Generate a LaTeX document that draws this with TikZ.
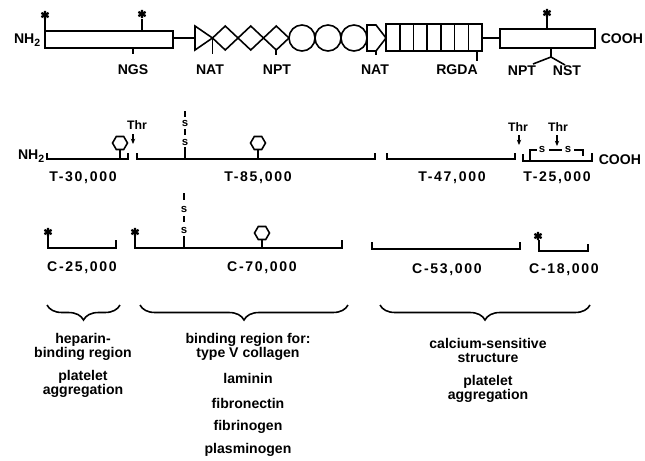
\documentclass[tikz,border=0pt]{standalone}
\usepackage{fontspec}
\setmainfont{Liberation Sans}
\newfontfamily\spacedfont[LetterSpace=12]{Liberation Sans}
\usetikzlibrary{arrows.meta,decorations.pathreplacing}
\tikzset{
  astx/.pic={\draw[line width=1.3pt] (0,-4.2)--(0,4.2) (-3.6,-2.1)--(3.6,2.1) (-3.6,2.1)--(3.6,-2.1);},
  hexa/.pic={\draw (7.5,0)--(3.7,-6.5)--(-3.7,-6.5)--(-7.5,0)--(-3.7,6.5)--(3.7,6.5)--cycle;},
  lbl/.style={font=\fontsize{8}{9}\selectfont\bfseries, inner sep=0pt},
  frag/.style={font=\spacedfont\fontsize{8}{9}\selectfont\bfseries, inner sep=0pt},
  txt/.style={font=\fontsize{8}{8}\selectfont\bfseries, align=center, inner sep=0pt},
  sml/.style={font=\fontsize{6.5}{6.5}\selectfont\bfseries, inner sep=0pt},
  thrarrow/.style={-{Stealth[length=3pt,width=2.5pt]}, line width=0.6pt},
  brc/.style={decorate, decoration={brace, amplitude=0.3cm, mirror}},
}
\begin{document}
\begin{tikzpicture}[x=0.02cm,y=-0.02cm, line width=0.9pt]
\useasboundingbox (0,0) rectangle (645,460);
% ---------------- top row ----------------
\node[lbl, anchor=east] (nh2a) at (41,40) {NH\raisebox{-0.45ex}{\fontsize{6}{6}\selectfont 2}};
\draw (45,31) rectangle (173,48);
\draw (45,31)--(45,19); \pic at (45,15) {astx};
\draw (142,31)--(142,19); \pic at (142,14) {astx};
\draw (133,48)--(133,54);
\node[lbl] (ngs) at (133,70) {NGS};
\draw (173,38)--(195,38);
\draw (195,26)--(212.5,38)--(195,50)--cycle;
\foreach \l in {212.5,238,263.5}{
  \draw (\l,38)--(\l+12.75,26)--(\l+25.5,38)--(\l+12.75,50)--cycle;
}
\draw (212.5,38)--(212.5,54);
\node[lbl] (nat1) at (210,70) {NAT};
\draw (276.25,50)--(276.25,55);
\node[lbl] (npt1) at (277,70) {NPT};
\foreach \c in {302,328,354}{\draw (\c,38) circle [radius=13];}
\draw (367,25)--(376,25)--(386,38)--(376,51)--(367,51)--cycle;
\draw (376,51)--(376,55);
\node[lbl] (nat2) at (375,70) {NAT};
\draw (386,24) rectangle (482,51);
\foreach \i in {1,...,6}{\draw (386+\i*13.714,24)--(386+\i*13.714,51);}
\draw (477,51)--(477,61);
\node[lbl] (rgda) at (457,70) {RGDA};
\draw (482,38)--(500,38);
\draw (500,29) rectangle (595,48);
\draw (547,29)--(547,17); \pic at (547,13) {astx};
\draw (551,48)--(551,57)--(533,64);
\draw (551,57)--(565,65);
\node[lbl] (npt2) at (522,71) {NPT};
\node[lbl] (nst) at (567,71) {NST};
\node[lbl, anchor=west] (cooha) at (600,39) {COOH};
% ---------------- T fragments ----------------
\node[lbl, anchor=east] (nh2b) at (45,156) {NH\raisebox{-0.45ex}{\fontsize{6}{6}\selectfont 2}};
\draw (47,153)--(47,159)--(128,159)--(128,153);
\pic at (120,143) {hexa}; \draw (120,149.5)--(120,159);
\node[lbl, font=\fontsize{7}{8}\selectfont\bfseries] (thr1) at (137,125) {Thr};
\draw[thrarrow] (133,134)--(133,144);
\draw (137,153)--(137,159)--(375,159)--(375,153);
\draw (185,111)--(185,117);
\node[sml] (s1) at (185,123) {s};
\draw (185,129)--(185,135);
\node[sml] (s2) at (185,142) {s};
\draw (185,147)--(185,159);
\pic at (258,143) {hexa}; \draw (258,149.5)--(258,159);
\node[frag] (t30) at (83,178) {T-30,000};
\node[frag] (t85) at (258,178) {T-85,000};
\draw (387,153)--(387,159)--(515,159)--(515,153);
\node[frag] (t47) at (452,178) {T-47,000};
\node[lbl, font=\fontsize{7}{8}\selectfont\bfseries] (thr2) at (518,127) {Thr};
\draw[thrarrow] (519,135)--(519,145);
\draw (523,154)--(523,161)--(592,161)--(592,153);
\draw (530,161)--(530,150)--(537,150);
\node[sml] (s3) at (542,149) {s};
\draw (549,150)--(562,150);
\node[sml] (s4) at (568,149) {s};
\draw (574,150)--(583,150)--(583,156);
\node[lbl, font=\fontsize{7}{8}\selectfont\bfseries] (thr3) at (558,127) {Thr};
\draw[thrarrow] (557,135)--(557,146);
\node[lbl, anchor=west] (coohb) at (598,160) {COOH};
\node[frag] (t25) at (557,178) {T-25,000};
% ---------------- C fragments ----------------
\pic at (48,232) {astx};
\draw (48,236)--(48,248)--(116,248)--(116,240);
\node[frag] (c25) at (82,268) {C-25,000};
\pic at (135,232) {astx};
\draw (135,236)--(135,248)--(342,248)--(342,240);
\draw (184,193)--(184,200);
\node[sml] (s5) at (184,209) {s};
\draw (184,216)--(184,222);
\node[sml] (s6) at (184,230) {s};
\draw (184,236)--(184,248);
\pic at (262,233) {hexa}; \draw (262,239.5)--(262,248);
\node[frag] (c70) at (262,268) {C-70,000};
\draw (372,242)--(372,249)--(520,249)--(520,242);
\node[frag] (c53) at (447,270) {C-53,000};
\pic at (538,236) {astx};
\draw (539,240)--(539,251)--(588,251)--(588,244);
\node[frag] (c18) at (564,270) {C-18,000};
% ---------------- braces ----------------
\draw[brc] (47,305)--(120,305);
\draw[brc] (140,305)--(348,305);
\draw[brc] (380,305)--(590,305);
% ---------------- texts ----------------
\node[txt] (hep) at (83,347) {heparin-\\binding region};
\node[txt] (pla1) at (83,384) {platelet\\aggregation};
\node[txt] (bind) at (248,347) {binding region for:\\type V collagen};
\node[txt] (lam) at (248,378) {laminin};
\node[txt] (fibn) at (248,403) {fibronectin};
\node[txt] (fibg) at (248,427) {fibrinogen};
\node[txt] (plas) at (248,450) {plasminogen};
\node[txt] (calc) at (488,350) {calcium-sensitive\\structure};
\node[txt] (pla2) at (488,389) {platelet\\aggregation};
\end{tikzpicture}
\end{document}
